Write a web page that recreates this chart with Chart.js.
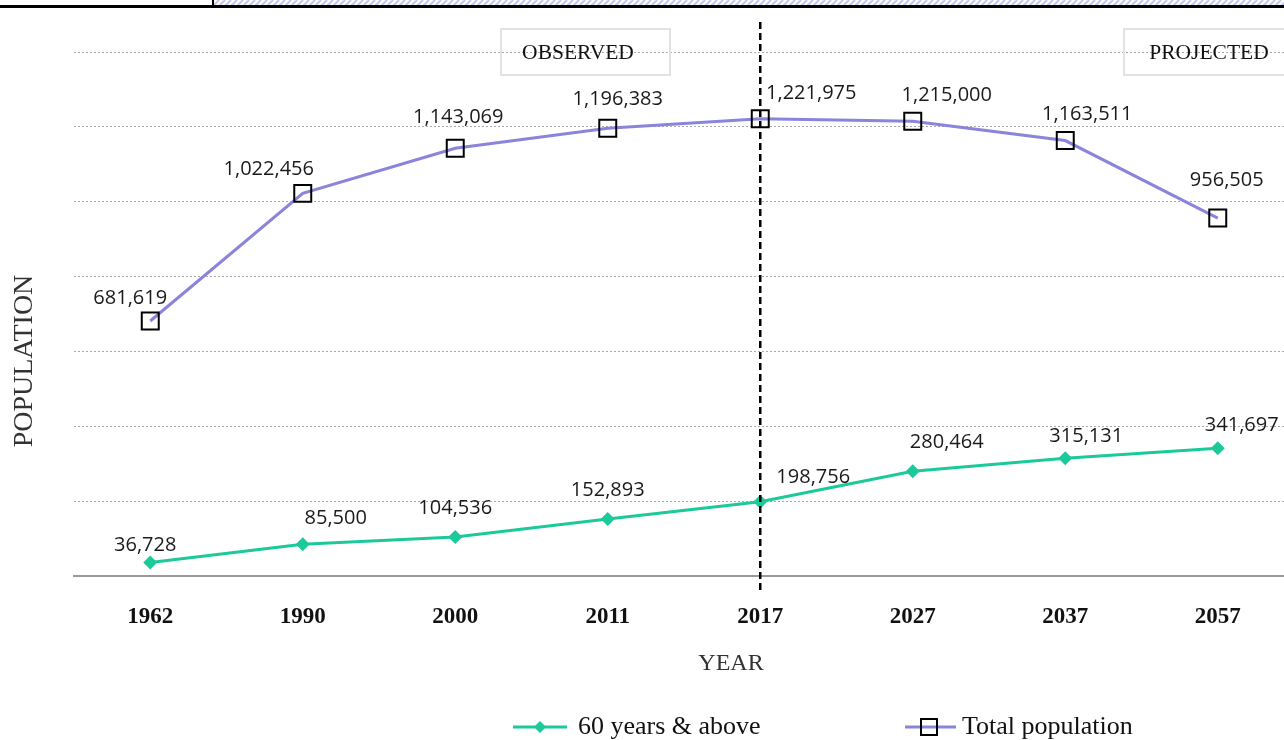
<!DOCTYPE html>
<html lang="en">
<head>
    <meta charset="UTF-8">
    <title>Population: 60 years & above vs Total population</title>
    <script src="https://cdn.jsdelivr.net/npm/chart.js"></script>
    <style>
        html, body { margin: 0; padding: 0; overflow: hidden; background: #fff; }
    </style>
</head>
<body>
    <canvas id="popChart" width="1308" height="740"></canvas>

    <script>
        // data
        const years = ['1962', '1990', '2000', '2011', '2017', '2027', '2037', '2057'];
        const over60 = [36728, 85500, 104536, 152893, 198756, 280464, 315131, 341697];
        const totalPop = [681619, 1022456, 1143069, 1196383, 1221975, 1215000, 1163511, 956505];
        const splitYear = '2017';

        const GREEN = '#1cc99a';
        const PURPLE = '#8a84db';
        const SERIF = '"Liberation Serif", "DejaVu Serif", serif';
        const SANS = '"Open Sans", "Noto Sans", sans-serif';

        // label nudges (pixels) so labels sit like the original
        const totalLabelShift = [[-20, -23], [-34, -24], [3, -31], [10, -29], [51, -25], [34, -26], [22, -26], [9, -38]];
        const over60LabelShift = [[-5, -17], [33, -26], [0, -29], [0, -29], [53, -25], [34, -29], [21, -22], [24, -23]];

        const fmt = v => v.toLocaleString('en-US');

        // the cropped strip along the very top of the picture
        const topStrip = {
            id: 'topStrip',
            beforeDraw(chart) {
                const c = chart.ctx;
                c.save();
                c.beginPath();
                c.rect(214, 0, chart.width - 214, 6);
                c.clip();
                c.strokeStyle = '#c4c6f2';
                c.lineWidth = 2;
                for (let x = 200; x < chart.width + 10; x += 6) {
                    c.beginPath();
                    c.moveTo(x, 7);
                    c.lineTo(x + 7, 0);
                    c.stroke();
                }
                c.restore();
                c.save();
                c.fillStyle = '#000';
                c.fillRect(0, 5, chart.width, 3);
                c.fillRect(212, 0, 2, 7);
                c.restore();
            }
        };

        // OBSERVED / PROJECTED boxes, the dashed split line, axis titles
        const annotations = {
            id: 'annotations',
            afterDatasetsDraw(chart) {
                const c = chart.ctx;
                const x = chart.scales.x.getPixelForValue(years.indexOf(splitYear));
                c.save();
                c.strokeStyle = '#000';
                c.lineWidth = 2.5;
                c.setLineDash([7, 4]);
                c.beginPath();
                c.moveTo(x, 22);
                c.lineTo(x, 591);
                c.stroke();
                c.setLineDash([]);

                c.strokeStyle = '#e2e2e2';
                c.lineWidth = 2;
                c.strokeRect(501, 29, 169, 46);
                c.strokeRect(1124, 29, 180, 46);
                c.fillStyle = '#111';
                c.font = '21.5px ' + SERIF;
                c.textAlign = 'center';
                c.textBaseline = 'middle';
                c.fillText('OBSERVED', 578, 53);
                c.fillText('PROJECTED', 1209, 53);

                c.fillStyle = '#333';
                c.font = '24px ' + SERIF;
                c.fillText('YEAR', 731, 664);
                c.translate(25, 361);
                c.rotate(-Math.PI / 2);
                c.font = '28px ' + SERIF;
                c.fillText('POPULATION', 0, 0);
                c.restore();
            }
        };

        // value labels next to every point
        const valueLabels = {
            id: 'valueLabels',
            afterDatasetsDraw(chart) {
                const c = chart.ctx;
                c.save();
                c.font = '20px ' + SANS;
                c.fillStyle = '#1a1a1a';
                c.textAlign = 'center';
                c.textBaseline = 'middle';
                chart.data.datasets.forEach((ds, i) => {
                    const shifts = ds.labelShift;
                    chart.getDatasetMeta(i).data.forEach((pt, j) => {
                        c.fillText(fmt(ds.data[j]), pt.x + shifts[j][0], pt.y + shifts[j][1]);
                    });
                });
                c.restore();
            }
        };

        // legend: line + marker, like the spreadsheet one
        const bottomLegend = {
            id: 'bottomLegend',
            afterDraw(chart) {
                const c = chart.ctx;
                const y = 727;
                c.save();
                c.lineWidth = 3;
                c.strokeStyle = GREEN;
                c.beginPath(); c.moveTo(513, y); c.lineTo(567, y); c.stroke();
                c.fillStyle = GREEN;
                c.beginPath();
                c.moveTo(540, y - 6); c.lineTo(546, y); c.lineTo(540, y + 6); c.lineTo(534, y);
                c.closePath(); c.fill();

                c.strokeStyle = PURPLE;
                c.beginPath(); c.moveTo(905, y); c.lineTo(956, y); c.stroke();
                c.strokeStyle = '#000';
                c.lineWidth = 2;
                c.strokeRect(921, y - 8, 16, 16);

                c.fillStyle = '#111';
                c.font = '26px ' + SERIF;
                c.textBaseline = 'middle';
                c.textAlign = 'left';
                c.fillText('60 years & above', 578, y);
                c.fillText('Total population', 962, y);
                c.restore();
            }
        };

        const ctx = document.getElementById('popChart').getContext('2d');

        new Chart(ctx, {
            type: 'line',
            data: {
                labels: years,
                datasets: [
                    {
                        label: 'Total population',
                        data: totalPop,
                        labelShift: totalLabelShift,
                        borderColor: PURPLE,
                        borderWidth: 3,
                        tension: 0,
                        pointStyle: 'rect',
                        pointRadius: 12,
                        pointBorderWidth: 2,
                        pointBorderColor: '#000',
                        pointBackgroundColor: 'rgba(0,0,0,0)'
                    },
                    {
                        label: '60 years & above',
                        data: over60,
                        labelShift: over60LabelShift,
                        borderColor: GREEN,
                        borderWidth: 3,
                        tension: 0,
                        pointStyle: 'rectRot',
                        pointRadius: 7,
                        pointBorderWidth: 0,
                        pointBackgroundColor: GREEN
                    }
                ]
            },
            options: {
                responsive: false,
                animation: false,
                layout: { padding: { top: 52, left: 74, right: 8, bottom: 83 } },
                plugins: {
                    legend: { display: false },
                    tooltip: { enabled: false }
                },
                scales: {
                    x: {
                        offset: true,
                        grid: { display: false, drawTicks: false },
                        border: { display: true, color: '#9a9a9a', width: 2 },
                        ticks: {
                            padding: 26,
                            color: '#111',
                            font: { family: SERIF, size: 23, weight: 'bold', lineHeight: 1.25 }
                        }
                    },
                    y: {
                        min: 0,
                        max: 1400000,
                        ticks: { display: false, stepSize: 200000 },
                        border: { display: false, dash: [2, 2] },
                        grid: { color: '#a8a8a8', lineWidth: 1, drawTicks: false }
                    }
                }
            },
            plugins: [topStrip, annotations, valueLabels, bottomLegend]
        });
    </script>
</body>
</html>
